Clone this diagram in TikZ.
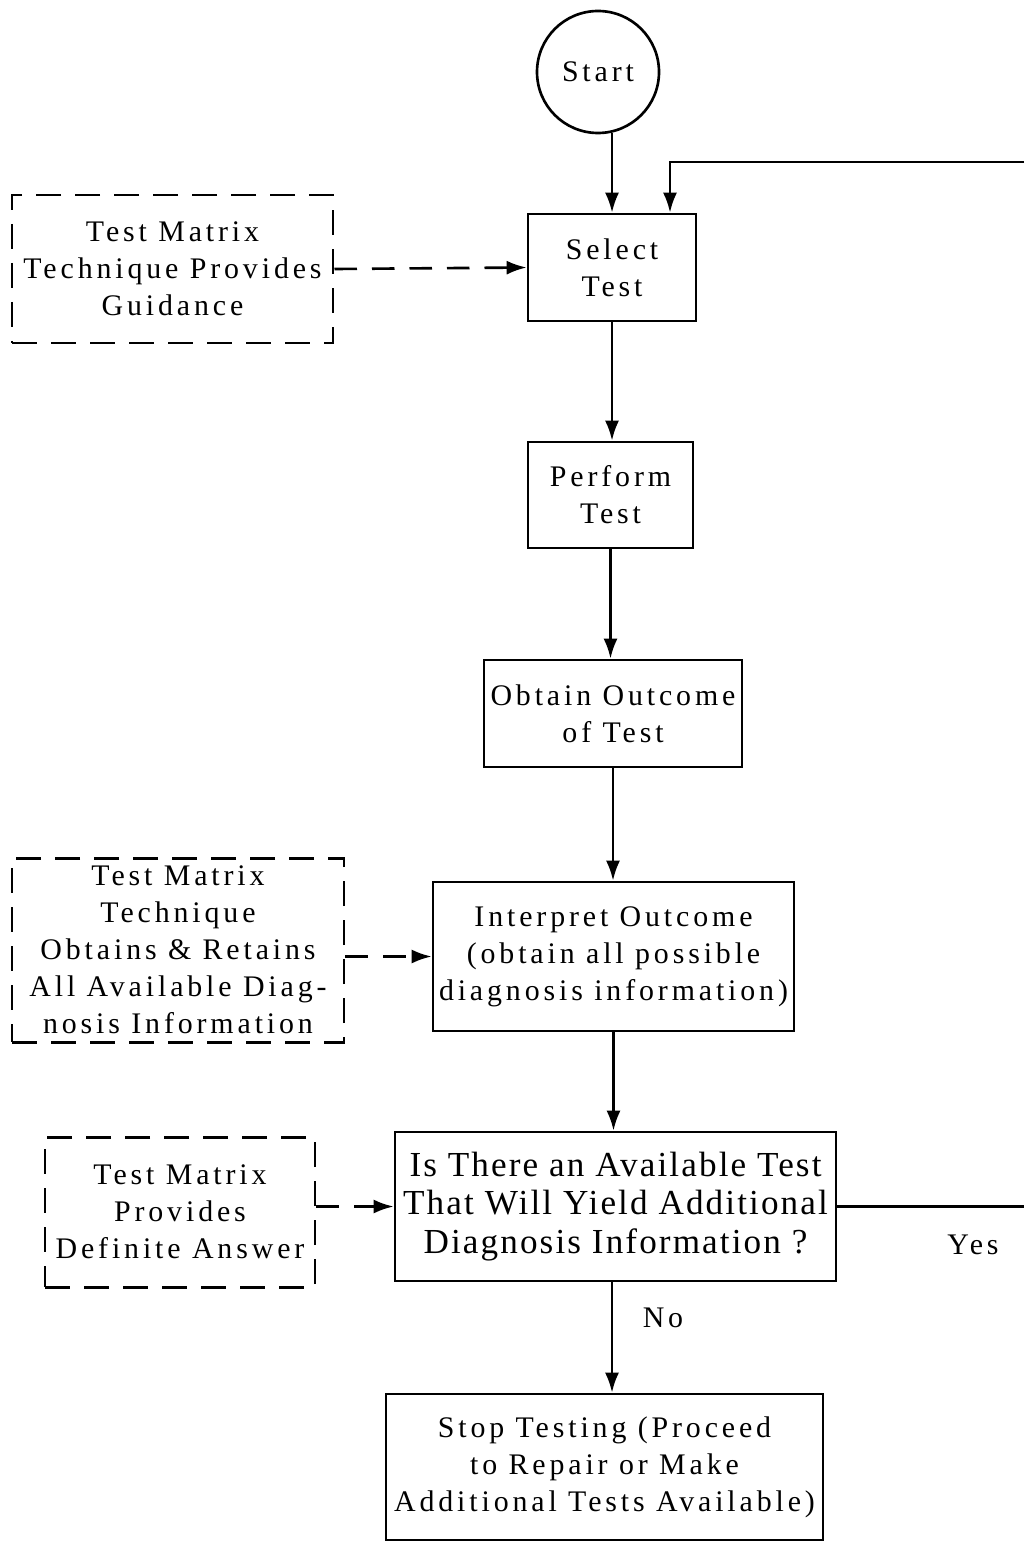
\documentclass[tikz,border=0pt]{standalone}
\usepackage{fontspec}
\setmainfont[LetterSpace=13]{Liberation Serif}
\newfontfamily\narrowfont[LetterSpace=6]{Liberation Serif}
\usepackage{tikz}
\usetikzlibrary{arrows.meta}

\tikzset{
  stepbox/.style = {rectangle, draw = black, line width = 1.5pt,
    align = center, inner sep = 1pt},
  hintbox/.style = {rectangle, draw = black, line width = 1.7pt,
    dash pattern = on 0.5cm off 0.28cm, align = center, inner sep = 1pt},
  flow/.style = {line width = 1.5pt, -{Latex[length=4mm, width=2.8mm]}},
  hint/.style = {flow, dash pattern = on 0.45cm off 0.3cm},
}

\begin{document}
\begin{tikzpicture}[font = \fontsize{17}{21}\selectfont]
\useasboundingbox (0,0) rectangle (20.48,-30.84);

% main column
  \node[circle,
      draw = black,
      line width = 1.5pt,
      minimum size = 2.44cm] (start) at (11.96,-1.44) {Start};

  \node[stepbox,
      minimum width = 3.36cm,
      minimum height = 2.14cm] (select) at (12.24,-5.35) {Select\\Test};

  \node[stepbox,
      minimum width = 3.3cm,
      minimum height = 2.12cm] (perform) at (12.21,-9.9) {Perform\\Test};

  \node[stepbox,
      minimum width = 5.16cm,
      minimum height = 2.14cm] (obtain) at (12.26,-14.27) {Obtain Outcome\\of Test};

  \node[stepbox,
      minimum width = 7.22cm,
      minimum height = 2.98cm] (interp) at (12.27,-19.13)
      {Interpret Outcome\\(obtain all possible\\diagnosis information)};

  \node[stepbox,
      font = \narrowfont\fontsize{20}{22}\selectfont,
      minimum width = 8.82cm,
      minimum height = 2.98cm] (query) at (12.31,-24.13)
      {Is There an Available Test\\That Will Yield Additional\\Diagnosis Information ?};

  \node[stepbox,
      minimum width = 8.74cm,
      minimum height = 2.92cm] (stop) at (12.09,-29.34)
      {Stop Testing (Proceed\\to Repair or Make\\Additional Tests Available)};

% dashed helper boxes
  \node[hintbox,
      minimum width = 6.42cm,
      minimum height = 2.96cm] (guide) at (3.45,-5.38)
      {Test Matrix\\Technique Provides\\Guidance};

  \node[hintbox,
      minimum width = 6.64cm,
      minimum height = 3.68cm] (retain) at (3.56,-19.0)
      {Test Matrix\\Technique\\Obtains \& Retains\\All Available Diag-\\nosis Information};

  \node[hintbox,
      minimum width = 5.4cm,
      minimum height = 3.0cm] (answer) at (3.6,-24.24)
      {Test Matrix\\Provides\\Definite Answer};

% labels
  \node (yes) at (19.46,-24.9) {Yes};
  \node (no) at (13.26,-26.36) {No};

% loop ends at the page edge
  \coordinate (loopend) at (20.48,-3.24);
  \coordinate (yesend) at (20.48,-24.13);

% connectors
  \draw[flow] (start.-77) -- (start.-77 |- select.north);
  \draw[flow] (loopend) -| ([xshift=1.16cm]select.north);
  \draw[flow] (select.south) -- (select.south |- perform.north);
  \draw[flow] (perform.south) -- (perform.south |- obtain.north);
  \draw[flow] (obtain.south) -- (obtain.south |- interp.north);
  \draw[flow] (interp.south) -- (interp.south |- query.north);
  \draw[flow] (query.south -| select.south) -- (select.south |- stop.north);
  \draw[line width = 1.5pt] (query.east) -- (yesend);

  \draw[hint] (guide.east) -- (select.west);
  \draw[hint] (retain.east |- interp.west) -- (interp.west);
  \draw[hint] (answer.east |- query.west) -- (query.west);

\end{tikzpicture}
\end{document}
